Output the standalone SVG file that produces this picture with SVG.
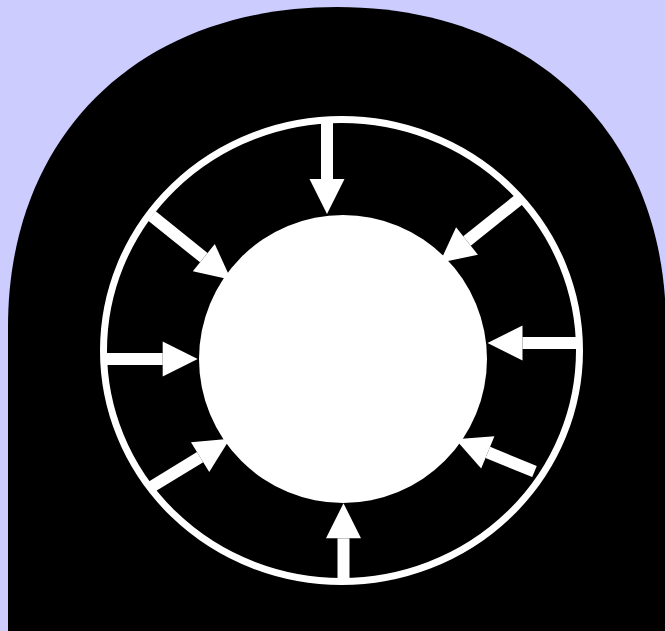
<svg xmlns="http://www.w3.org/2000/svg" width="665" height="631" viewBox="0 0 665 631">
  <style>
    .arrow { stroke: #ffffff; stroke-width: 12; stroke-linecap: butt; fill: none; marker-end: url(#head); }
  </style>
  <defs>
    <marker id="head" markerUnits="userSpaceOnUse" viewBox="0 0 35 35" markerWidth="35" markerHeight="35" refX="0" refY="17.5" orient="auto" overflow="visible">
      <path d="M0,0 L35,17.5 L0,35 Z" fill="#ffffff"/>
    </marker>
  </defs>
  <rect x="0" y="0" width="665" height="631" fill="#ccccff"/>
  <g id="arch">
    <path d="M8,631 L8,327 C8,135 139,7 337,7 C535,7 666,135 666,327 L666,631 Z" fill="#000000"/>
  </g>
  <g id="outer-ring">
    <ellipse cx="341.5" cy="350.5" rx="238" ry="231" fill="none" stroke="#ffffff" stroke-width="7"/>
  </g>
  <g id="core">
    <circle cx="343" cy="359" r="144" fill="#ffffff"/>
  </g>
  <g id="connectors">
    <line class="arrow" x1="327" y1="119" x2="327" y2="179"/>
    <line class="arrow" x1="519" y1="199.5" x2="467" y2="241"/>
    <line class="arrow" x1="580" y1="343" x2="522.5" y2="343"/>
    <line class="arrow" x1="534.5" y1="471.5" x2="487.8" y2="452.4"/>
    <line class="arrow" x1="343.5" y1="581" x2="343.5" y2="538.3"/>
    <line class="arrow" x1="152" y1="486.5" x2="200.1" y2="457.1"/>
    <line class="arrow" x1="103" y1="359" x2="162.7" y2="359"/>
    <line class="arrow" x1="152" y1="216" x2="203.8" y2="257.7"/>
  </g>
</svg>
